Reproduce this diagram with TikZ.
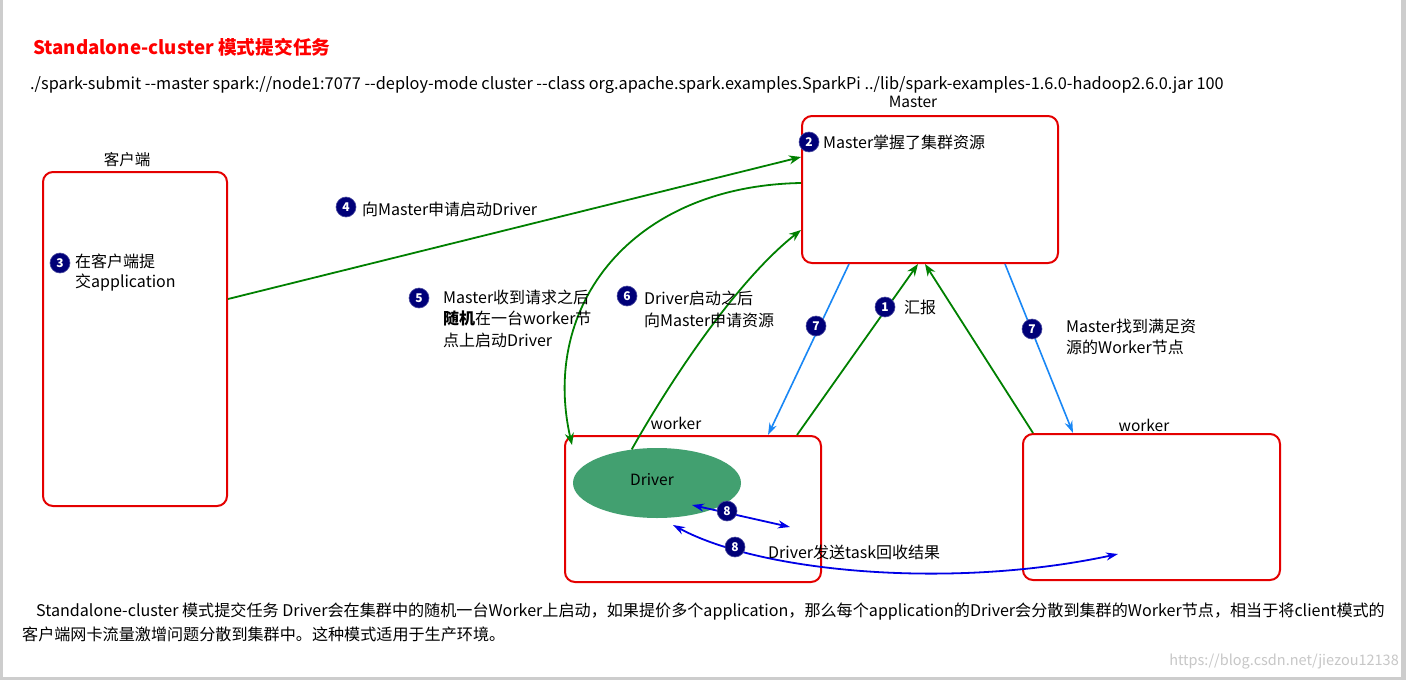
\documentclass[tikz,border=0pt]{standalone}
\usepackage{fontspec}
\setmainfont{Noto Sans CJK SC}
\usetikzlibrary{arrows.meta,shapes.geometric}
\definecolor{boxred}{RGB}{228,0,0}
\definecolor{titlered}{RGB}{255,0,0}
\definecolor{arrgreen}{RGB}{0,128,0}
\definecolor{arrblue}{RGB}{25,135,245}
\definecolor{deepblue}{RGB}{0,0,230}
\definecolor{navy}{RGB}{0,0,120}
\definecolor{drivergreen}{RGB}{66,160,112}
\definecolor{framegray}{RGB}{205,205,205}
\newcommand{\twohy}{-\kern0pt-}
\tikzset{
  box/.style={draw=boxred, line width=2pt, rounded corners=10pt, inner sep=0pt},
  lbl/.style={anchor=west, inner sep=0pt, align=left, font=\fontsize{16}{21.5}\selectfont},
  boxcap/.style={inner sep=0pt, font=\fontsize{15.5}{18}\selectfont},
  num/.style={circle, fill=navy, draw=navy!70!white, line width=0.6pt, inner sep=0pt, minimum size=20pt, text=white, font=\fontsize{12}{12}\selectfont\bfseries},
  garrow/.style={draw=arrgreen, line width=1.8pt, -{Stealth[length=12pt,width=9pt]}},
  barrow/.style={draw=arrblue, line width=1.6pt, -{Stealth[length=12pt,width=8pt]}},
  darrow/.style={draw=deepblue, line width=1.8pt, {Stealth[length=12pt,width=8pt]}-{Stealth[length=12pt,width=8pt]}}
}
\begin{document}
\begin{tikzpicture}[x=1pt,y=-1pt]
\useasboundingbox (0,0) rectangle (1406,680);
\fill[framegray] (0,0) rectangle (1406,680);
\fill[white] (3,0) rectangle (1401,677);

% title and command
\node[anchor=west, inner sep=0pt, text=titlered, font=\fontsize{18.7}{21}\selectfont\bfseries] (title) at (33,47) {Standalone-cluster 模式提交任务};
\node[anchor=west, inner sep=0pt, font=\fontsize{16.3}{19}\selectfont] (cmd) at (30,85) {./spark-submit \twohy master spark://node1:7077 \twohy deploy-mode cluster \twohy class org.apache.spark.examples.SparkPi ../lib/spark-examples-1.6.0-hadoop2.6.0.jar 100};

% boxes
\node[box, minimum width=184pt, minimum height=334pt] (client) at (135,339) {};
\node[box, minimum width=256pt, minimum height=147pt] (master) at (930,189.5) {};
\node[box, minimum width=256pt, minimum height=146pt] (worker1) at (693,509) {};
\node[box, minimum width=257pt, minimum height=146pt] (worker2) at (1151.5,507) {};
\node[ellipse, fill=drivergreen, minimum width=168pt, minimum height=70pt, inner sep=0pt] (driver) at (657,483) {};
\node[boxcap] (drivertxt) at (652,480) {Driver};

\node[boxcap] (clientcap) at (127,160) {客户端};
\node[boxcap] (mastercap) at (913,102) {Master};
\node[boxcap] (w1cap) at (676,423) {worker};
\node[boxcap] (w2cap) at (1144,425) {worker};

% coordinates for free ends
\coordinate (p5end) at (572,445);
\coordinate (s8a) at (692,505);
\coordinate (s8b) at (790,527);
\coordinate (c8a) at (673,525);
\coordinate (c8b) at (1118,554);

% arrows
\draw[garrow] ([yshift=40pt]client.east) -- ([yshift=32.5pt]master.west);
\draw[garrow] ([yshift=6.5pt]master.west) .. controls (632,186) and (540,305) .. (p5end);
\draw[garrow] (driver.127) .. controls (668,385) and (735,282) .. ([yshift=-40.5pt]master.west);
\draw[garrow] ([xshift=104pt]worker1.north) -- ([xshift=-12pt]master.south);
\draw[garrow] ([xshift=-118.5pt]worker2.north) -- ([xshift=-5pt]master.south);
\draw[barrow] ([xshift=-81pt]master.south) -- ([xshift=75pt]worker1.north);
\draw[barrow] ([xshift=75pt]master.south) -- ([xshift=-78.5pt]worker2.north);
\draw[darrow] (s8a) -- (s8b);
\draw[darrow] (c8a) .. controls (760,572) and (950,590) .. (c8b);

% numbered markers
\node[num] (n2) at (809,142) {2};
\node[num] (n4) at (346,207) {4};
\node[num] (n3) at (60,263) {3};
\node[num] (n5) at (419,298) {5};
\node[num] (n6) at (627,296) {6};
\node[num] (n7a) at (816,326) {7};
\node[num] (n7b) at (1032,329) {7};
\node[num] (n1) at (885,307) {1};
\node[num] (n8a) at (727,511) {8};
\node[num] (n8b) at (735,547) {8};

% labels
\node[lbl] (t2) at (823,142) {Master掌握了集群资源};
\node[lbl] (t4) at (362,209) {向Master申请启动Driver};
\node[lbl, font=\fontsize{16}{20}\selectfont] (t3) at (75,273) {在客户端提\\交application};
\node[lbl] (t5) at (443,318.5) {Master收到请求之后\\{\bfseries 随机}在一台worker节\\点上启动Driver};
\node[lbl, font=\fontsize{16}{22}\selectfont] (t6) at (644,309) {Driver启动之后\\向Master申请资源};
\node[lbl] (t1) at (904,307) {汇报};
\node[lbl, font=\fontsize{16}{21}\selectfont] (t7) at (1066,336.5) {Master找到满足资\\源的Worker节点};
\node[lbl] (t8) at (768,552) {Driver发送task回收结果};

% bottom paragraph
\node[anchor=west, inner sep=0pt, font=\fontsize{16.1}{19}\selectfont] (para1) at (36,612) {Standalone-cluster 模式提交任务 Driver会在集群中的随机一台Worker上启动，如果提价多个application，那么每个application的Driver会分散到集群的Worker节点，相当于将client模式的};
\node[anchor=west, inner sep=0pt, font=\fontsize{16.1}{19}\selectfont] (para2) at (22,634) {客户端网卡流量激增问题分散到集群中。这种模式适用于生产环境。};

\node[anchor=east, inner sep=0pt, text=black!22, font=\fontsize{14.5}{17}\selectfont] (wm) at (1399,662) {https://blog.csdn.net/jiezou12138};
\end{tikzpicture}
\end{document}
